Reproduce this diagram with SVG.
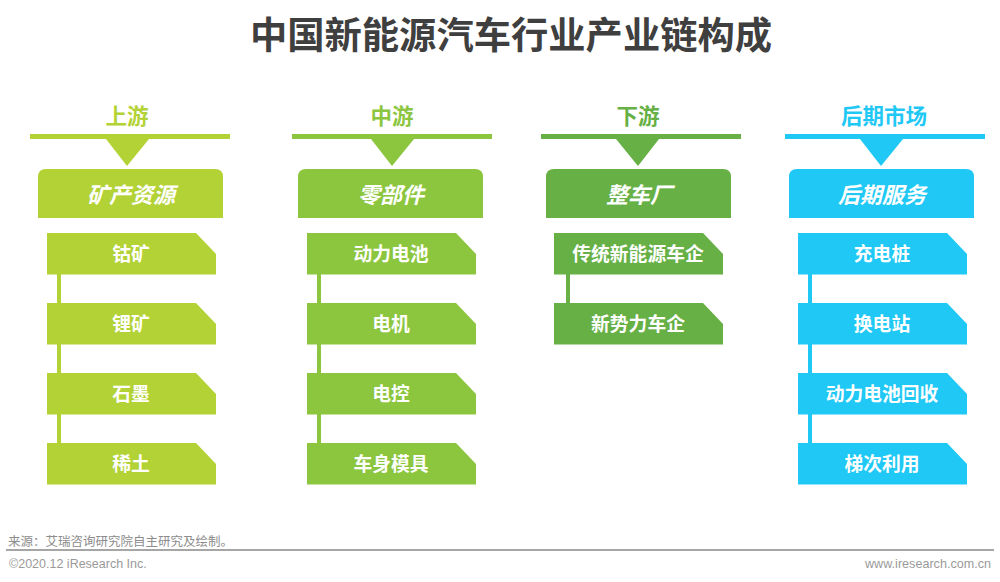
<svg xmlns="http://www.w3.org/2000/svg" width="1000" height="582" viewBox="0 0 1000 582">
<defs>
<style>
text{font-family:"Noto Sans CJK SC","Liberation Sans",sans-serif;text-anchor:middle}
.title{font-size:37.300px;font-weight:700;fill:#3f3f3f}
.stage{font-size:21.500px;font-weight:700}
.head{font-size:22px;font-weight:700;font-style:italic;fill:#fff}
.item{font-size:18.800px;font-weight:700;fill:#fff}
.a{fill:#b2d235}.b{fill:#8cc63f}.c{fill:#66b045}.d{fill:#1fc8f5}
</style>
<path id="it" d="M0 0H149L169 21V41.500H0Z"/>
<path id="hd" d="M0 49V8Q0 0 8 0H177Q185 0 185 8V49Z"/>
</defs>
<rect width="1000" height="582" fill="#fff"/>
<text class="title" x="511" y="49">中国新能源汽车行业产业链构成</text>

<g id="connectors">
<rect class="a" x="57" y="274" width="4" height="170"/>
<rect class="b" x="317" y="274" width="4" height="170"/>
<rect class="c" x="566" y="274" width="4" height="30"/>
<rect class="d" x="808" y="274" width="4" height="170"/>
</g>

<g id="col1">
<text class="stage a" x="127" y="124">上游</text>
<path class="a" d="M30 134H230V139H149L127 166L106 139H30Z"/>
<g id="n-kuangchan"><use href="#hd" x="38" y="169" class="a"/><text class="head" x="131" y="203">矿产资源</text></g>
<g id="n-gu"><use href="#it" x="47" y="233" class="a"/><text class="item" x="131" y="261">钴矿</text></g>
<g id="n-li"><use href="#it" x="47" y="303" class="a"/><text class="item" x="131" y="331">锂矿</text></g>
<g id="n-shimo"><use href="#it" x="47" y="373" class="a"/><text class="item" x="131" y="401">石墨</text></g>
<g id="n-xitu"><use href="#it" x="47" y="443" class="a"/><text class="item" x="131" y="471">稀土</text></g>
</g>

<g id="col2">
<text class="stage b" x="392" y="124">中游</text>
<path class="b" d="M292 134H492V139H414L392 166L371 139H292Z"/>
<g id="n-lingbujian"><use href="#hd" x="298" y="169" class="b"/><text class="head" x="391" y="203">零部件</text></g>
<g id="n-dongli"><use href="#it" x="307" y="233" class="b"/><text class="item" x="391" y="261">动力电池</text></g>
<g id="n-dianji"><use href="#it" x="307" y="303" class="b"/><text class="item" x="391" y="331">电机</text></g>
<g id="n-diankong"><use href="#it" x="307" y="373" class="b"/><text class="item" x="391" y="401">电控</text></g>
<g id="n-cheshen"><use href="#it" x="307" y="443" class="b"/><text class="item" x="391" y="471">车身模具</text></g>
</g>

<g id="col3">
<text class="stage c" x="638" y="124">下游</text>
<path class="c" d="M541 134H741V139H659L638 166L616 139H541Z"/>
<g id="n-zhengche"><use href="#hd" x="546" y="169" class="c"/><text class="head" x="639" y="203">整车厂</text></g>
<g id="n-chuantong"><use href="#it" x="554" y="233" class="c"/><text class="item" x="638" y="261">传统新能源车企</text></g>
<g id="n-xinshili"><use href="#it" x="554" y="303" class="c"/><text class="item" x="638" y="331">新势力车企</text></g>
</g>

<g id="col4">
<text class="stage d" x="884" y="124">后期市场</text>
<path class="d" d="M785 134H985V139H903L881 166L860 139H785Z"/>
<g id="n-houqi"><use href="#hd" x="789" y="169" class="d"/><text class="head" x="882" y="203">后期服务</text></g>
<g id="n-chongdian"><use href="#it" x="798" y="233" class="d"/><text class="item" x="882" y="261">充电桩</text></g>
<g id="n-huandian"><use href="#it" x="798" y="303" class="d"/><text class="item" x="882" y="331">换电站</text></g>
<g id="n-huishou"><use href="#it" x="798" y="373" class="d"/><text class="item" x="882" y="401">动力电池回收</text></g>
<g id="n-tici"><use href="#it" x="798" y="443" class="d"/><text class="item" x="882" y="471">梯次利用</text></g>
</g>

<g id="footer">
<text x="8" y="546" style="text-anchor:start;font-size:12.500px;fill:#8c8c8c">来源：艾瑞咨询研究院自主研究及绘制。</text>
<rect x="6" y="549" width="988" height="2" fill="#a6a6a6"/>
<text x="9" y="568" style="text-anchor:start;font-family:'Liberation Sans',sans-serif;font-size:12.500px;fill:#9a9a9a">©2020.12 iResearch Inc.</text>
<text x="991" y="568" style="text-anchor:end;font-family:'Liberation Sans',sans-serif;font-size:12.600px;fill:#9a9a9a">www.iresearch.com.cn</text>
</g>
</svg>
